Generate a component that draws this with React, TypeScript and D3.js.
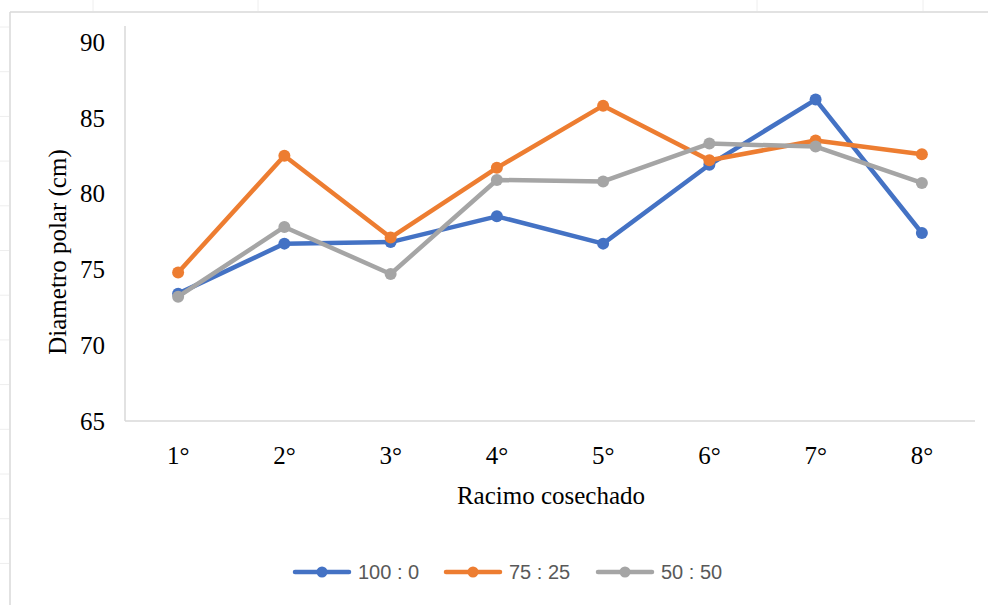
import React from 'react'
import * as d3 from 'd3'

const categories = ['1°', '2°', '3°', '4°', '5°', '6°', '7°', '8°']
const yTicks = [65, 70, 75, 80, 85, 90]
const seriesNames = ['100 : 0', '75 : 25', '50 : 50']
const seriesColors = ['#4472C4', '#ED7D31', '#A5A5A5']
const values100 = [73.4, 76.7, 76.8, 78.5, 76.7, 81.9, 86.2, 77.4]
const values75 = [74.8, 82.5, 77.1, 81.7, 85.8, 82.2, 83.5, 82.6]
const values50 = [73.2, 77.8, 74.7, 80.9, 80.8, 83.3, 83.1, 80.7]

const width = 988
const height = 605
const margin = { top: 42, right: 13, bottom: 184, left: 125 }
const serif = '"Liberation Serif", "Times New Roman", serif'
const sans = '"Liberation Sans", Arial, sans-serif'

export default function App() {
  const series = [values100, values75, values50]

  const x = d3.scaleBand<string>()
    .domain(categories)
    .range([margin.left, width - margin.right])

  const y = d3.scaleLinear()
    .domain([65, 90])
    .range([height - margin.bottom, margin.top])

  const line = d3.line<number>()
    .x((_, i) => (x(categories[i]) ?? 0) + x.bandwidth() / 2)
    .y(d => y(d))

  const baseY = y(65)

  // spreadsheet cell marks around the frame
  const topMarks = [93, 258, 757, 923]
  const leftMarks = d3.range(27, 600, 44.7)

  const legendX = [295, 446, 598]
  const legendY = 572

  return (
    <svg
      width={width}
      height={height}
      style={{ position: 'fixed', left: 0, top: 0, background: '#fff' }}
    >
      {/* outer frame */}
      <line x1={10} y1={12} x2={width} y2={12} stroke="#D9D9D9" strokeWidth={1.5} />
      <line x1={10} y1={12} x2={10} y2={height} stroke="#D9D9D9" strokeWidth={1.5} />
      {topMarks.map(m => (
        <line key={'t' + m} x1={m} y1={0} x2={m} y2={11} stroke="#EEEEEE" strokeWidth={1} />
      ))}
      {leftMarks.map(m => (
        <line key={'l' + m} x1={0} y1={m} x2={9} y2={m} stroke="#EEEEEE" strokeWidth={1} />
      ))}

      {/* axes */}
      <line x1={margin.left} y1={26} x2={margin.left} y2={baseY} stroke="#D9D9D9" strokeWidth={1.5} />
      <line x1={margin.left} y1={baseY} x2={width - margin.right} y2={baseY} stroke="#D9D9D9" strokeWidth={1.5} />

      {yTicks.map(t => (
        <text
          key={t}
          x={105}
          y={y(t)}
          dy="0.35em"
          textAnchor="end"
          fontFamily={serif}
          fontSize={25}
          fill="#000"
        >
          {t}
        </text>
      ))}

      {categories.map(c => (
        <text
          key={c}
          x={(x(c) ?? 0) + x.bandwidth() / 2}
          y={baseY + 43}
          textAnchor="middle"
          fontFamily={serif}
          fontSize={25}
          fill="#000"
        >
          {c}
        </text>
      ))}

      <text
        x={551}
        y={504}
        textAnchor="middle"
        fontFamily={serif}
        fontSize={25}
        fill="#000"
      >
        Racimo cosechado
      </text>
      <text
        transform={`translate(66, 252) rotate(-90)`}
        textAnchor="middle"
        fontFamily={serif}
        fontSize={25}
        fill="#000"
      >
        Diametro polar (cm)
      </text>

      {series.map((vals, si) => (
        <g key={si}>
          <path
            d={line(vals) ?? ''}
            fill="none"
            stroke={seriesColors[si]}
            strokeWidth={4.5}
            strokeLinejoin="round"
          />
          {vals.map((v, i) => (
            <circle
              key={i}
              cx={(x(categories[i]) ?? 0) + x.bandwidth() / 2}
              cy={y(v)}
              r={6}
              fill={seriesColors[si]}
            />
          ))}
        </g>
      ))}

      {seriesNames.map((name, i) => (
        <g key={name}>
          <line
            x1={legendX[i]}
            y1={legendY}
            x2={legendX[i] + 54}
            y2={legendY}
            stroke={seriesColors[i]}
            strokeWidth={4.5}
            strokeLinecap="round"
          />
          <circle cx={legendX[i] + 27} cy={legendY} r={5.5} fill={seriesColors[i]} />
          <text
            x={legendX[i] + 63}
            y={legendY}
            dy="0.35em"
            fontFamily={sans}
            fontSize={20}
            fill="#595959"
          >
            {name}
          </text>
        </g>
      ))}
    </svg>
  )
}
